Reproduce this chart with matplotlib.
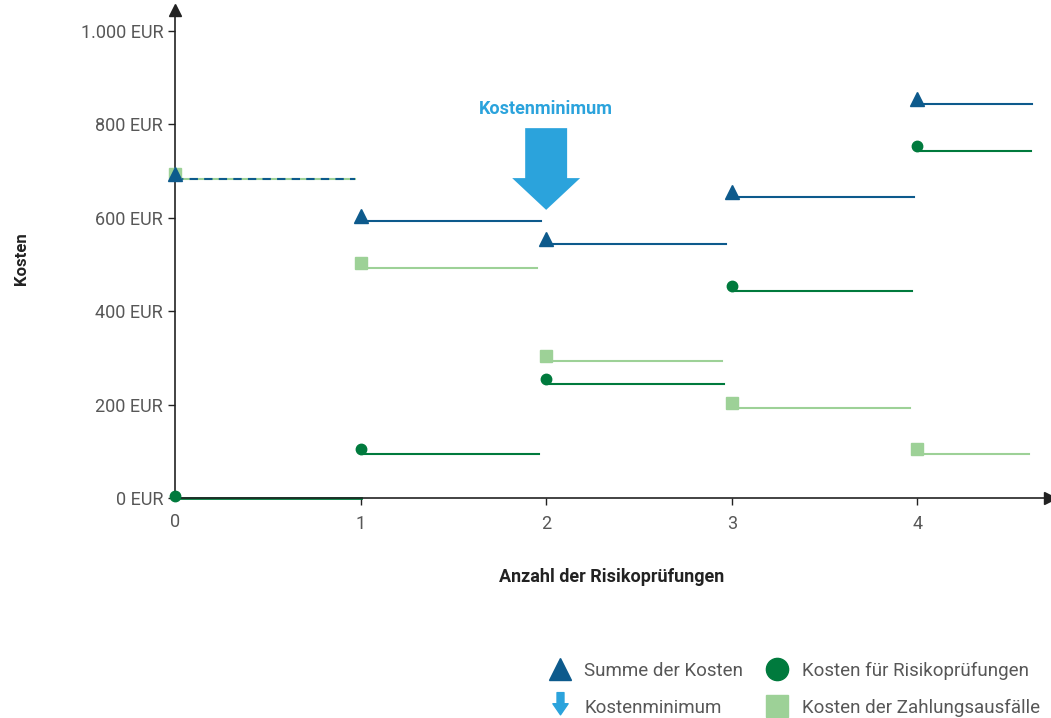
import matplotlib
matplotlib.use("Agg")
import matplotlib.pyplot as plt
import matplotlib.transforms as mtransforms
from matplotlib.lines import Line2D
from matplotlib.path import Path
from matplotlib.patches import FancyArrow
import numpy as np

plt.rcParams['font.family'] = ['Roboto', 'DejaVu Sans']

# data
pruefungen = [0, 1, 2, 3, 4]
summe = [690, 600, 550, 650, 850]
kosten_pruefung = [0, 100, 250, 450, 750]
kosten_ausfall = [690, 500, 300, 200, 100]
minimum_x = 2
seg_end = [0.97, 1.97, 2.97, 3.98, 4.62]

x_ticks = [0, 1, 2, 3, 4]
y_ticks = [0, 200, 400, 600, 800, 1000]
y_ticklabels = ['0 EUR', '200 EUR', '400 EUR', '600 EUR', '800 EUR', '1.000 EUR']

C_SUM = '#0d5a8c'
C_RISK = '#007a3d'
C_DEF = '#9dd197'
C_MIN = '#2ba3dc'
C_TXT = '#575757'

fig = plt.figure(figsize=(10.51, 7.18), dpi=100)
ax = fig.add_axes([175 / 1051, 220 / 718, 875 / 1051, 488 / 718])
ax.set_xlim(0, 4.715)
ax.set_ylim(0, 1045)

for s in ['top', 'right']:
    ax.spines[s].set_visible(False)
for s in ['left', 'bottom']:
    ax.spines[s].set_color('#222222')
    ax.spines[s].set_linewidth(1.2)

# axis arrow heads
ax.plot(1, 0, '>', color='#222222', ms=9, transform=ax.transAxes, clip_on=False)
ax.plot(0, 1, '^', color='#222222', ms=9, transform=ax.transAxes, clip_on=False)

ax.set_xticks(x_ticks[1:])
ax.set_xticklabels([str(v) for v in x_ticks[1:]])
ax.set_yticks(y_ticks)
ax.set_yticklabels(y_ticklabels)
ax.tick_params(axis='both', direction='out', length=5, width=1, colors='#222222',
               labelcolor=C_TXT, labelsize=13)
ax.tick_params(axis='x', pad=7)
ax.text(0, -0.03, '0', transform=mtransforms.blended_transform_factory(ax.transData, ax.transAxes),
        ha='center', va='top', fontsize=13, color=C_TXT)

line_tr = mtransforms.offset_copy(ax.transData, fig=fig, y=-3, units='dots')
mark_tr = mtransforms.offset_copy(ax.transData, fig=fig, y=2, units='dots')

# segments
for i, x0 in enumerate(pruefungen):
    x1 = seg_end[i]
    if i == 0:
        ax.plot([x0, x1], [kosten_ausfall[i]] * 2, color=C_DEF, lw=1.5, transform=line_tr, clip_on=False)
        ax.plot([x0, x1], [summe[i]] * 2, color=C_SUM, lw=1.5, ls=(0, (4, 3)), transform=line_tr, clip_on=False)
        ax.plot([x0, x1 + 0.03], [kosten_pruefung[i]] * 2, color=C_RISK, lw=2, transform=ax.transData, clip_on=False)
    else:
        ax.plot([x0, x1], [summe[i]] * 2, color=C_SUM, lw=1.5, transform=line_tr)
        ax.plot([x0, x1 - 0.02], [kosten_ausfall[i]] * 2, color=C_DEF, lw=1.5, transform=line_tr)
        ax.plot([x0, x1 - 0.01], [kosten_pruefung[i]] * 2, color=C_RISK, lw=1.5, transform=line_tr)

ax.plot(pruefungen, kosten_ausfall, 's', color=C_DEF, ms=8, transform=mark_tr, clip_on=False, zorder=3)
ax.plot(pruefungen, kosten_pruefung, 'o', color=C_RISK, ms=7.5, transform=mark_tr, clip_on=False, zorder=4)
ax.plot(pruefungen, summe, '^', color=C_SUM, ms=9.5, transform=mark_tr, clip_on=False, zorder=5)

# Kostenminimum arrow
top = 792
tip = summe[minimum_x] + 67
ax.add_patch(FancyArrow(minimum_x, top, 0, tip - top, width=0.226, head_width=0.366,
                        head_length=68, length_includes_head=True, color=C_MIN, lw=0, zorder=6))
ax.text(minimum_x, top + 40, 'Kostenminimum', ha='center', va='center', fontsize=13,
        fontweight='bold', color=C_MIN)

ax.set_ylabel('Kosten', fontsize=12, fontweight='bold', color='#222222', labelpad=0)
ax.yaxis.set_label_coords(-146 / 875, 0.49)
ax.set_xlabel('Anzahl der Risikoprüfungen', fontsize=13, fontweight='bold', color='#222222')
ax.xaxis.set_label_coords((612 - 175) / 875, -70 / 488)

# legend
arrow_path = Path([(-0.25, 1), (0.25, 1), (0.25, 0.2), (0.55, 0.2), (0, -0.6), (-0.55, 0.2),
                   (-0.25, 0.2), (-0.25, 1)],
                  [Path.MOVETO] + [Path.LINETO] * 6 + [Path.CLOSEPOLY])
handles = [
    Line2D([], [], ls='none', marker='^', color=C_SUM, ms=16),
    Line2D([], [], ls='none', marker=arrow_path, color=C_MIN, ms=20),
    Line2D([], [], ls='none', marker='o', color=C_RISK, ms=16),
    Line2D([], [], ls='none', marker='s', color=C_DEF, ms=16),
]
labels = ['Summe der Kosten', 'Kostenminimum', 'Kosten für Risikoprüfungen', 'Kosten der Zahlungsausfälle']
leg = fig.legend(handles, labels, ncol=2, loc='lower right', bbox_to_anchor=(1.0, -0.014),
                 frameon=False, fontsize=13.5, labelcolor=C_TXT, handletextpad=0.5,
                 handlelength=1.6, columnspacing=1.0, labelspacing=1.0, borderaxespad=0.2)

fig.savefig('out.png', dpi=100)
